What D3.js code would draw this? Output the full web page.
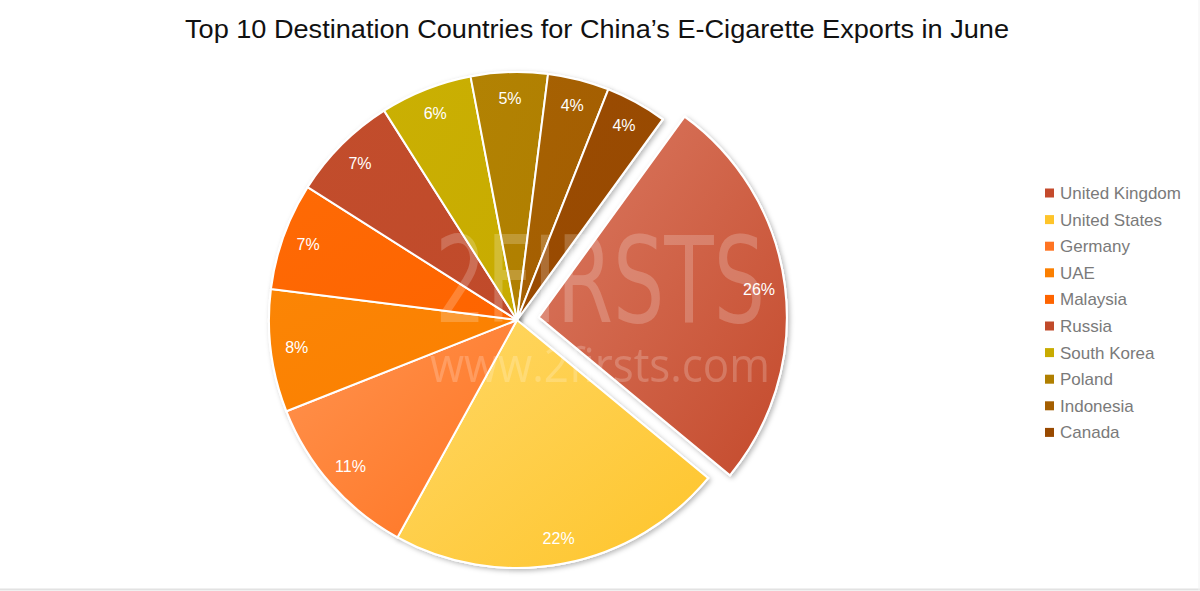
<!DOCTYPE html>
<html>
<head>
<meta charset="utf-8">
<script src="https://cdn.jsdelivr.net/npm/d3@7"></script>
<style>
  html, body { margin: 0; padding: 0; background: #fff; }
  svg { display: block; }
</style>
</head>
<body>
<svg id="chart" width="1200" height="591"></svg>
<script>
const title = "Top 10 Destination Countries for China\u2019s E-Cigarette Exports in June";
const countries = ["United Kingdom", "United States", "Germany", "UAE", "Malaysia", "Russia", "South Korea", "Poland", "Indonesia", "Canada"];
const shares = [26, 22, 11, 8, 7, 7, 6, 5, 4, 4];
const colors = ["#c44a2c", "#fec42a", "#ff7422", "#fb7f00", "#fe6400", "#c04a2a", "#c8ab00", "#b07f00", "#a45e00", "#984900"];
const lightColors = ["#db7a62", "#ffd866", "#ff934f", "#fb8505", "#fe6a05", "#c24d2c", "#cab003", "#b28203", "#a66103", "#9a4c03"];

const svg = d3.select("#chart");
const W = 1200, H = 591;
const cx = 517, cy = 320, R = 248;
const explode = 22;

// border lines
svg.append("line").attr("x1", 0).attr("x2", W).attr("y1", 589.5).attr("y2", 589.5)
  .attr("stroke", "#e2e2e2").attr("stroke-width", 2);
svg.append("line").attr("x1", 1199).attr("x2", 1199).attr("y1", 0).attr("y2", 591)
  .attr("stroke", "#f2f2f2").attr("stroke-width", 1);

const defs = svg.append("defs");
const shadow = defs.append("filter").attr("id", "shadow")
  .attr("x", "-20%").attr("y", "-20%").attr("width", "140%").attr("height", "140%");
shadow.append("feDropShadow").attr("dx", 2).attr("dy", 2).attr("stdDeviation", 2.5)
  .attr("flood-color", "#000").attr("flood-opacity", 0.28);

countries.forEach((c, i) => {
  const g = defs.append("linearGradient").attr("id", "grad" + i)
    .attr("x1", "0%").attr("y1", "0%").attr("x2", "100%").attr("y2", "100%");
  g.append("stop").attr("offset", "0%").attr("stop-color", lightColors[i]);
  g.append("stop").attr("offset", "100%").attr("stop-color", colors[i]);
});

// title
svg.append("text")
  .attr("x", 597).attr("y", 38)
  .attr("text-anchor", "middle")
  .attr("font-family", "Liberation Sans, Arial, Helvetica, sans-serif")
  .attr("font-size", 26)
  .attr("fill", "#111")
  .attr("textLength", 824)
  .attr("lengthAdjust", "spacingAndGlyphs")
  .text(title);

const start = 36 * Math.PI / 180;
const pie = d3.pie().sort(null).value(d => d).startAngle(start).endAngle(start + 2 * Math.PI);
const arcs = pie(shares);
const arc = d3.arc().innerRadius(0).outerRadius(R);
const labelArc = d3.arc().innerRadius(222).outerRadius(222);

const offset = (d, i) => {
  if (i !== 0) return [0, 0];
  const a = (d.startAngle + d.endAngle) / 2;
  return [Math.sin(a) * explode, -Math.cos(a) * explode];
};

const pieG = svg.append("g").attr("transform", `translate(${cx},${cy})`);

// shadow layer
pieG.selectAll("path.shadow")
  .data(arcs)
  .join("path")
  .attr("class", "shadow")
  .attr("transform", (d, i) => `translate(${offset(d, i)})`)
  .attr("d", arc)
  .attr("fill", "#fff")
  .attr("stroke", "#fff")
  .attr("stroke-width", 2)
  .attr("filter", "url(#shadow)");

pieG.selectAll("path.slice")
  .data(arcs)
  .join("path")
  .attr("class", "slice")
  .attr("transform", (d, i) => `translate(${offset(d, i)})`)
  .attr("d", arc)
  .attr("fill", (d, i) => `url(#grad${i})`)
  .attr("stroke", "#fff")
  .attr("stroke-width", 2)
  .attr("stroke-linejoin", "round");

// watermark
const wm = svg.append("g").attr("opacity", 0.2).attr("fill", "#fff")
  .attr("font-family", "DejaVu Sans Condensed, Liberation Sans Narrow, sans-serif");
wm.append("text").attr("x", 600).attr("y", 322).attr("text-anchor", "middle")
  .attr("font-size", 120).attr("textLength", 330).attr("lengthAdjust", "spacingAndGlyphs")
  .text("2FIRSTS");
wm.append("text").attr("x", 600).attr("y", 382).attr("text-anchor", "middle")
  .attr("font-family", "Open Sans, DejaVu Sans, sans-serif")
  .attr("font-size", 48).attr("textLength", 340).attr("lengthAdjust", "spacingAndGlyphs")
  .text("www.2firsts.com");

// labels
pieG.selectAll("text.lbl")
  .data(arcs)
  .join("text")
  .attr("class", "lbl")
  .attr("transform", (d, i) => {
    const [x, y] = labelArc.centroid(d);
    const [ox, oy] = offset(d, i);
    return `translate(${x + ox},${y + oy})`;
  })
  .attr("text-anchor", "middle")
  .attr("dy", "0.35em")
  .attr("font-family", "Liberation Sans, Arial, Helvetica, sans-serif")
  .attr("font-size", 16)
  .attr("fill", "#fff")
  .text(d => d.data + "%");

// legend
const legend = svg.append("g").attr("transform", "translate(1045,193)");
const items = legend.selectAll("g").data(countries).join("g")
  .attr("transform", (d, i) => `translate(0,${i * 26.6})`);
items.append("rect").attr("x", 0).attr("y", -4.5).attr("width", 9).attr("height", 9)
  .attr("fill", (d, i) => colors[i]);
items.append("text").attr("x", 15).attr("y", 0).attr("dy", "0.35em")
  .attr("font-family", "Liberation Sans, Arial, Helvetica, sans-serif")
  .attr("font-size", 17).attr("fill", "#7a7a7a")
  .text(d => d);
</script>
</body>
</html>
